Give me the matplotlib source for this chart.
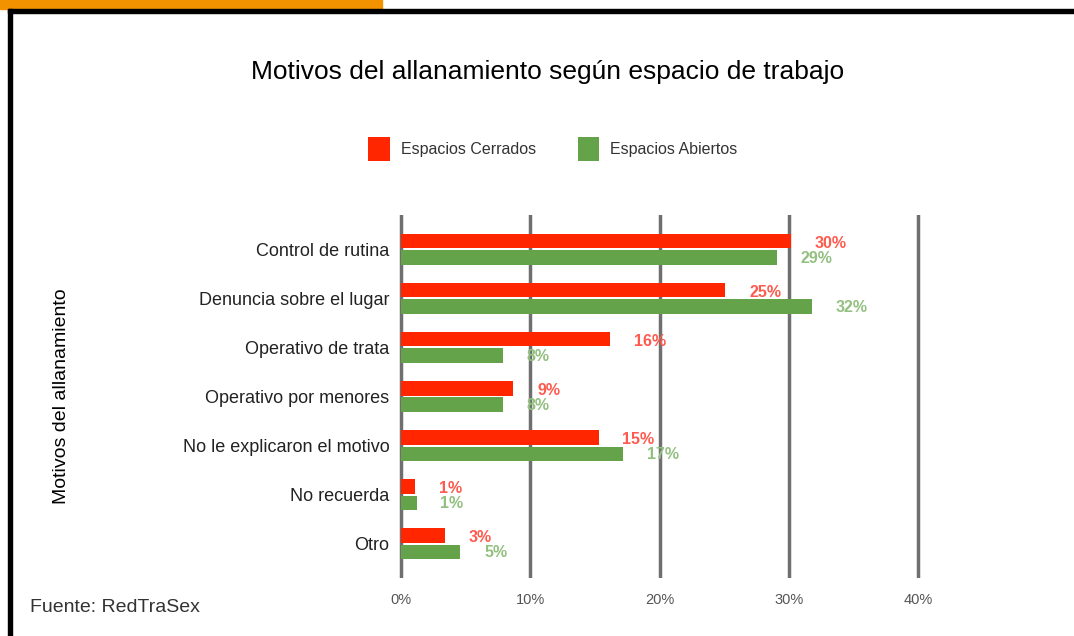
import matplotlib.pyplot as plt
import numpy as np
from matplotlib.patches import Rectangle

plt.rcParams['font.family'] = ['Liberation Sans', 'DejaVu Sans']

# Datos
motivos = ['Control de rutina', 'Denuncia sobre el lugar', 'Operativo de trata',
           'Operativo por menores', 'No le explicaron el motivo', 'No recuerda', 'Otro']
cerrados = [30.2, 25.1, 16.2, 8.7, 15.3, 1.1, 3.4]
abiertos = [29.1, 31.8, 7.9, 7.9, 17.2, 1.2, 4.6]
etiq_cerrados = [30, 25, 16, 9, 15, 1, 3]
etiq_abiertos = [29, 32, 8, 8, 17, 1, 5]
ticks = [0, 10, 20, 30, 40]

rojo = '#ff2600'
verde = '#64a34a'

fig = plt.figure(figsize=(10.74, 6.36), dpi=100)

# Marco decorativo
fig.patches.append(Rectangle((0, 1 - 9 / 636), 382 / 1074, 9 / 636, transform=fig.transFigure,
                             color='#f39200', zorder=0))
fig.patches.append(Rectangle((8 / 1074, 1 - 13 / 636), 1, 4 / 636, transform=fig.transFigure,
                             color='black', zorder=1))
fig.patches.append(Rectangle((8 / 1074, 0), 4 / 1074, 1 - 9 / 636, transform=fig.transFigure,
                             color='black', zorder=1))

px = 517 / 40  # pixeles por unidad
ax = fig.add_axes([(401 - 0.25 * px) / 1074, 58 / 636, 40.5 * px / 1074, 363 / 636])
y = np.arange(len(motivos))
h = 0.29
off = 0.165
ax.barh(y - off, cerrados, height=h, color=rojo, zorder=3, label='Espacios Cerrados')
ax.barh(y + off, abiertos, height=h, color=verde, zorder=3, label='Espacios Abiertos')

for i in range(len(motivos)):
    ax.annotate(f'{etiq_cerrados[i]}%', (cerrados[i], y[i] - off + 0.04), xytext=(17, 0),
                textcoords='offset points', va='center', ha='left', fontsize=11.5,
                fontweight='bold', color='#ff5a4e')
    ax.annotate(f'{etiq_abiertos[i]}%', (abiertos[i], y[i] + off + 0.02), xytext=(17, 0),
                textcoords='offset points', va='center', ha='left', fontsize=11.5,
                fontweight='bold', color='#93c080')

ax.set_xlim(-0.25, 40.25)
ax.set_ylim(len(motivos) - 0.3, -0.7)
ax.set_xticks(ticks)
ax.set_xticklabels([f'{t}%' for t in ticks], color='#555555', fontsize=10.5)
ax.set_yticks(y)
ax.set_yticklabels(motivos, fontsize=13, color='#222222')
ax.tick_params(axis='x', length=0, pad=11)
ax.tick_params(axis='y', length=0, pad=6)
ax.grid(axis='x', color='#6f6f6f', linewidth=2.5, zorder=0)
for s in ax.spines.values():
    s.set_visible(False)
ax.set_ylabel('Motivos del allanamiento', fontsize=14)
ax.yaxis.set_label_coords(-0.626, 0.5)

fig.text(548 / 1074, 1 - 72 / 636, 'Motivos del allanamiento según espacio de trabajo',
         ha='center', va='center', fontsize=19, color='black')
fig.legend(loc='center', bbox_to_anchor=(553 / 1074, 1 - 149 / 636), ncol=2, frameon=False,
           fontsize=11.5, handlelength=1.35, handleheight=1.9, columnspacing=2.6,
           handletextpad=0.7, labelcolor='#333333')
fig.text(30 / 1074, 1 - 607 / 636, 'Fuente: RedTraSex', ha='left', va='center',
         fontsize=14, color='#333333')

fig.savefig('out.png', dpi=100)
